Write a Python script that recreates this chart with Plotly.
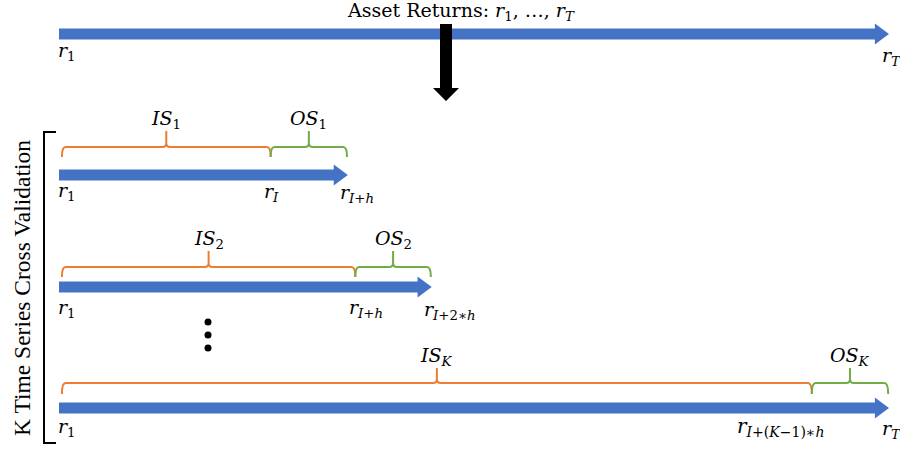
import plotly.graph_objects as go

# ---------------- data (timeline units: r_1 = 0, r_T = 100) ----------------
row_names = ["1", "2", "K"]
row_start = [0.0, 0.0, 0.0]
row_split = [25.5, 35.7, 90.7]
row_end = [34.8, 44.9, 100.0]
split_labels = ["<i>r</i><sub><i>I</i></sub>",
                "<i>r</i><sub><i>I</i>+<i>h</i></sub>",
                "<i>r</i><sub><i>I</i>+(<i>K</i>−1)∗<i>h</i></sub>"]
end_labels = ["<i>r</i><sub><i>I</i>+<i>h</i></sub>",
              "<i>r</i><sub><i>I</i>+2∗<i>h</i></sub>",
              "<i>r</i><sub><i>T</i></sub>"]
full_start = 0.0
full_end = 100.0

# ---------------- layout helpers ----------------
W, H = 900, 451
X0_PX, UNIT_PX = 59.0, 8.3          # pixel of r_1, pixels per unit
def ux(px):  # pixel -> timeline unit (for decorations only)
    return (px - X0_PX) / UNIT_PX

BLUE = "#4472C4"
ORANGE = "#ED7D31"
GREEN = "#70AD47"
SERIF = "DejaVu Serif"
TIMES = "Liberation Serif"

row_arrow_y = [175, 287, 408]
row_brace_top = [147, 267, 383]
row_brace_bot = [157, 277, 394]
row_brace_peak = [131, 251, 368]
row_label_y = [119, 239, 356]
row_rlabel_y = [191, 308, 427]

shapes = []
annotations = []

def arrow(x0, x1, yc, half=5.5, head_len=1.7, head_half=10.5, color=BLUE):
    xs = x1 - head_len
    path = (f"M {x0},{yc-half} L {xs},{yc-half} L {xs},{yc-head_half} L {x1},{yc} "
            f"L {xs},{yc+head_half} L {xs},{yc+half} L {x0},{yc+half} Z")
    shapes.append(dict(type="path", path=path, xref="x", yref="y",
                       fillcolor=color, line=dict(width=0), layer="above"))

def brace(x0, x1, ytop, ybot, ypeak, color):
    xm = (x0 + x1) / 2
    rx, ry = 0.45, 4
    p = (f"M {x0},{ybot} Q {x0},{ytop} {x0+rx},{ytop} L {xm-rx},{ytop} "
         f"Q {xm},{ytop} {xm},{ytop-ry} L {xm},{ypeak} "
         f"M {xm},{ytop-ry} Q {xm},{ytop} {xm+rx},{ytop} L {x1-rx},{ytop} "
         f"Q {x1},{ytop} {x1},{ybot}")
    shapes.append(dict(type="path", path=p, xref="x", yref="y",
                       line=dict(color=color, width=2)))
    return xm

def label(x, y, text, size=19, xanchor="center", family=SERIF):
    annotations.append(dict(x=x, y=y, xref="x", yref="y", text=text, showarrow=False,
                            xanchor=xanchor, yanchor="middle",
                            font=dict(family=family, size=size, color="black")))

# top arrow
arrow(full_start, full_end, 34)
label(full_start - 0.35, 51, "<i>r</i><sub>1</sub>", xanchor="left")
label(full_end - 1.1, 56, "<i>r</i><sub><i>T</i></sub>", xanchor="left")
label(ux(461), 11,
      "Asset Returns: <i>r</i><sub>1</sub>, …, <i>r</i><sub><i>T</i></sub>", size=19)

# big black down arrow
bx = ux(446)
shapes.append(dict(type="path", xref="x", yref="y", fillcolor="black", line=dict(width=0),
                   path=(f"M {ux(440)},24 L {ux(452)},24 L {ux(452)},88 L {ux(459)},88 "
                         f"L {bx},101 L {ux(433)},88 L {ux(440)},88 Z")))

# rows
for i, name in enumerate(row_names):
    s, sp, e = row_start[i], row_split[i], row_end[i]
    arrow(s, e, row_arrow_y[i])
    xm_is = brace(s + 0.35, sp, row_brace_top[i], row_brace_bot[i], row_brace_peak[i], ORANGE)
    xm_os = brace(sp, e - 0.1, row_brace_top[i], row_brace_bot[i], row_brace_peak[i], GREEN)
    sub = "<i>K</i>" if name == "K" else name
    label(xm_is, row_label_y[i], f"<i>IS</i><sub>{sub}</sub>")
    label(xm_os, row_label_y[i], f"<i>OS</i><sub>{sub}</sub>")
    label(s - 0.35, row_rlabel_y[i], "<i>r</i><sub>1</sub>", xanchor="left")
    label(sp - 1.0 if i < 2 else sp - 9.3, row_rlabel_y[i] + (1 if i == 0 else 0),
          split_labels[i], xanchor="left", size=19 if i < 2 else 20)
    label(e - 1.2 if i < 2 else e - 1.1, row_rlabel_y[i] + 2, end_labels[i], xanchor="left")

# ellipsis dots
dots = go.Scatter(x=[ux(208)] * 3, y=[322, 335, 348], mode="markers",
                  marker=dict(color="black", size=7), hoverinfo="skip", showlegend=False)

# left bracket
shapes.append(dict(type="path", xref="x", yref="y", line=dict(color="black", width=2),
                   path=f"M {ux(56)},132 L {ux(44)},132 L {ux(44)},443 L {ux(56)},443"))
annotations.append(dict(x=ux(22), y=288, xref="x", yref="y", showarrow=False,
                        text="K Time Series Cross Validation", textangle=-90,
                        font=dict(family=TIMES, size=23.5, color="black")))

fig = go.Figure(dots)
fig.update_layout(
    width=W, height=H, margin=dict(l=0, r=0, t=0, b=0),
    paper_bgcolor="white", plot_bgcolor="white",
    xaxis=dict(range=[ux(0), ux(W)], visible=False, fixedrange=True),
    yaxis=dict(range=[H, 0], visible=False, fixedrange=True),
    shapes=shapes, annotations=annotations, showlegend=False,
)
fig.write_html("out.html", config={"displayModeBar": False},
               post_script="document.body.style.margin='0';")
